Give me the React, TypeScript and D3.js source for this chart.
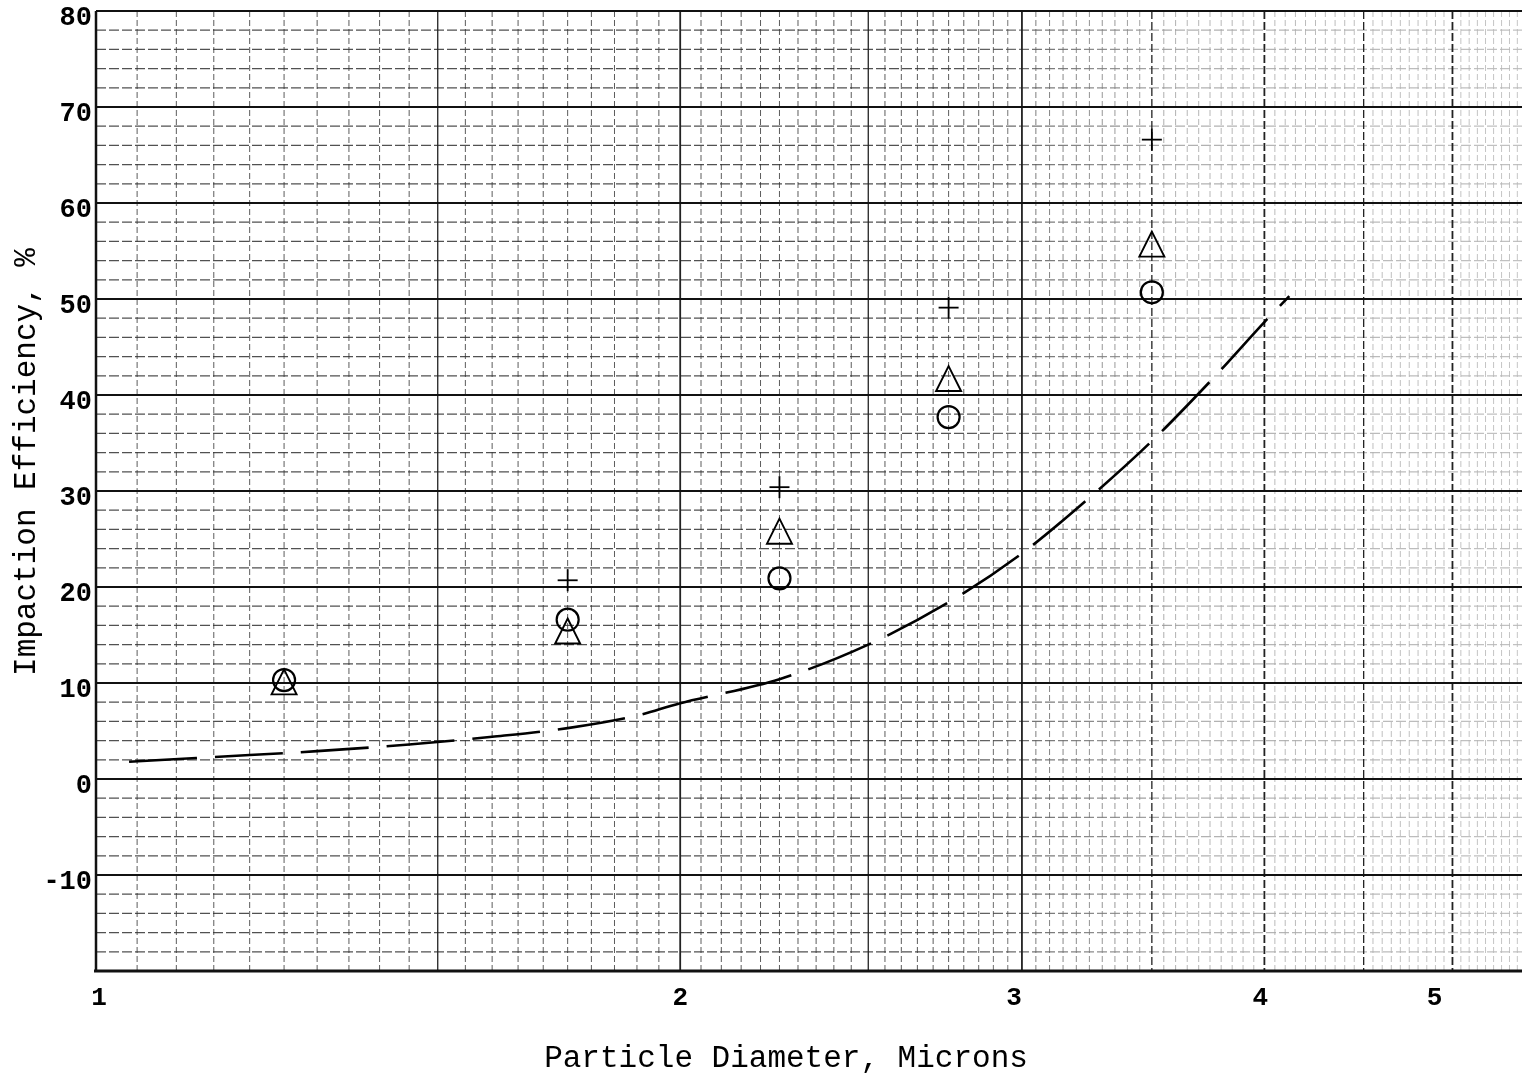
import React from "react";
import * as d3 from "d3";

// Impaction efficiency vs particle diameter, semi-log graph paper
const plusPoints: [number, number][] = [
  [1.75, 20.7],
  [2.25, 30.4],
  [2.75, 49.1],
  [3.5, 66.6],
];
const trianglePoints: [number, number][] = [
  [1.25, 9.8],
  [1.75, 15.1],
  [2.25, 25.5],
  [2.75, 41.4],
  [3.5, 55.4],
];
const circlePoints: [number, number][] = [
  [1.25, 10.3],
  [1.75, 16.6],
  [2.25, 20.9],
  [2.75, 37.7],
  [3.5, 50.7],
];
// theoretical curve (dashed)
const curveX = [1.04, 1.2, 1.3, 1.45, 1.6, 1.75, 1.9, 2.0, 2.25, 2.5, 2.75, 3.0, 3.25, 3.5, 3.75, 4.0, 4.12];
const curveY = [1.8, 2.5, 2.9, 3.6, 4.4, 5.3, 6.6, 7.9, 10.4, 14.0, 18.4, 23.5, 29.3, 35.2, 41.4, 47.6, 50.3];

const yTicks = [-10, 0, 10, 20, 30, 40, 50, 60, 70, 80];
const xTicks = [1, 2, 3, 4, 5];

const W = 1522;
const H = 1076;
const left = 96;
const top = 11;
const bottom = 971;

export default function App() {
  const x = d3.scaleLog().domain([1, 5.43]).range([left, W]);
  const y = d3.scaleLinear().domain([-20, 80]).range([bottom, top]);

  // vertical rulings every 0.05
  const vMinor: number[] = [];
  for (let i = 21; i <= 108; i++) vMinor.push(+(i * 0.05).toFixed(2));
  const vMajor = [1.5, 2, 2.5, 3, 3.5, 4, 4.5, 5];
  const hMinor: number[] = [];
  for (let v = -18; v <= 78; v += 2) if (v % 10 !== 0) hMinor.push(v);
  const hMajor = [-10, 0, 10, 20, 30, 40, 50, 60, 70];

  const line = d3
    .line<number>()
    .x((_, i) => x(curveX[i]))
    .y((d) => y(d))
    .curve(d3.curveCatmullRom.alpha(0.5));

  const font = "'Liberation Mono', 'DejaVu Sans Mono', monospace";
  const tri = (cx: number, cy: number, s: number) =>
    `M${cx},${cy - s * 0.62}L${cx + s / 2},${cy + s * 0.38}L${cx - s / 2},${cy + s * 0.38}Z`;

  return (
    <div style={{ position: "absolute", left: 0, top: 0 }}>
      <svg width={W} height={H} style={{ display: "block", background: "#fff" }}>
        <defs>
          <linearGradient id="fade" x1="0" x2="1" y1="0" y2="0">
            <stop offset="0" stopColor="#fff" stopOpacity={1} />
            <stop offset="0.62" stopColor="#fff" stopOpacity={1} />
            <stop offset="0.78" stopColor="#fff" stopOpacity={0.45} />
            <stop offset="1" stopColor="#fff" stopOpacity={0.35} />
          </linearGradient>
          <mask id="gridMask" maskUnits="userSpaceOnUse" x={0} y={0} width={W} height={H}>
            <rect x={0} y={0} width={W} height={H} fill="url(#fade)" />
          </mask>
        </defs>

        <g mask="url(#gridMask)">
          {vMinor
            .filter((v) => !vMajor.includes(v))
            .map((v) => (
              <line
                key={"vm" + v}
                x1={x(v)}
                x2={x(v)}
                y1={top}
                y2={bottom}
                stroke="#333"
                strokeWidth={1}
                strokeDasharray="6,3"
                opacity={0.8}
              />
            ))}
          {hMinor.map((v) => (
            <line
              key={"hm" + v}
              x1={left}
              x2={W}
              y1={y(v)}
              y2={y(v)}
              stroke="#333"
              strokeWidth={1.2}
              strokeDasharray="10,3"
              opacity={0.85}
            />
          ))}
        </g>
        {vMajor.map((v) => (
          <line
            key={"vM" + v}
            x1={x(v)}
            x2={x(v)}
            y1={top}
            y2={bottom}
            stroke="#222"
            strokeWidth={v % 1 === 0 ? 1.8 : 1.3}
            strokeDasharray={v >= 3.5 ? "8,3" : undefined}
          />
        ))}
        {hMajor.map((v) => (
          <line key={"hM" + v} x1={left} x2={W} y1={y(v)} y2={y(v)} stroke="#111" strokeWidth={2} />
        ))}

        {/* frame */}
        <line x1={left} x2={W} y1={top} y2={top} stroke="#111" strokeWidth={2.2} />
        <line x1={left} x2={left} y1={top} y2={bottom} stroke="#111" strokeWidth={2.5} />
        <line x1={left - 2} x2={W} y1={bottom} y2={bottom} stroke="#111" strokeWidth={3} />

        {/* dashed curve */}
        <path
          d={line(curveY) || ""}
          fill="none"
          stroke="#000"
          strokeWidth={2.6}
          strokeDasharray="68,18"
        />

        {/* markers */}
        {circlePoints.map(([a, b], i) => (
          <circle key={"c" + i} cx={x(a)} cy={y(b)} r={11} fill="none" stroke="#000" strokeWidth={2.2} />
        ))}
        {trianglePoints.map(([a, b], i) => (
          <path key={"t" + i} d={tri(x(a), y(b), 25)} fill="none" stroke="#000" strokeWidth={1.9} />
        ))}
        {plusPoints.map(([a, b], i) => (
          <g key={"p" + i} stroke="#000" strokeWidth={1.8}>
            <line x1={x(a) - 10} x2={x(a) + 10} y1={y(b)} y2={y(b)} />
            <line x1={x(a)} x2={x(a)} y1={y(b) - 11} y2={y(b) + 11} />
          </g>
        ))}

        {/* y tick labels */}
        {yTicks.map((t) => (
          <text
            key={"yt" + t}
            x={left - 4}
            y={y(t) + 7}
            textAnchor="end"
            dominantBaseline="central"
            fontFamily={font}
            fontSize={27}
            fontWeight="bold"
            fill="#000"
          >
            {t}
          </text>
        ))}
        {/* x tick labels */}
        {xTicks.map((t) => (
          <text
            key={"xt" + t}
            x={x(t) + (t === 1 ? 3 : t === 3 ? -8 : t === 5 ? -18 : t === 4 ? -4 : 0)}
            y={998}
            textAnchor="middle"
            dominantBaseline="central"
            fontFamily={font}
            fontSize={26}
            fontWeight="bold"
            fill="#000"
          >
            {t}
          </text>
        ))}

        <text
          x={786}
          y={1058}
          textAnchor="middle"
          dominantBaseline="central"
          fontFamily={font}
          fontSize={31}
          fill="#000"
        >
          Particle Diameter, Microns
        </text>
        <text
          transform={`translate(26,462) rotate(-90)`}
          textAnchor="middle"
          dominantBaseline="central"
          fontFamily={font}
          fontSize={31}
          fill="#000"
        >
          Impaction Efficiency, %
        </text>
      </svg>
    </div>
  );
}
